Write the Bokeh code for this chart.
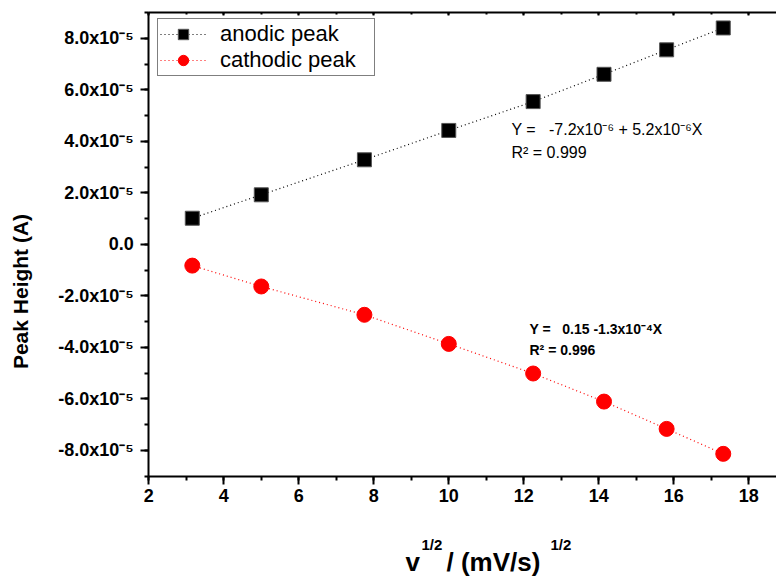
from math import pi

from bokeh.plotting import figure
from bokeh.models import (Range1d, LinearAxis, SingleIntervalTicker, CustomJSTickFormatter,
                          Label, Legend, LegendItem)
from bokeh.embed import file_html
from bokeh.resources import INLINE

# square root of scan rate, (mV/s)^1/2
sqrt_scan_rate = [3.16, 5.00, 7.75, 10.00, 12.25, 14.14, 15.81, 17.32]
# peak currents, A
anodic_peak = [1.01e-5, 1.92e-5, 3.28e-5, 4.42e-5, 5.54e-5, 6.60e-5, 7.55e-5, 8.40e-5]
cathodic_peak = [-0.83e-5, -1.64e-5, -2.74e-5, -3.87e-5, -5.02e-5, -6.11e-5, -7.17e-5, -8.14e-5]

series_names = ["anodic peak", "cathodic peak"]
anodic_fit = ["Y =\u00a0\u00a0\u00a0-7.2x10\u207b\u2076 + 5.2x10\u207b\u2076X", "R\u00b2 = 0.999"]
cathodic_fit = ["Y =\u00a0\u00a0\u00a00.15 -1.3x10\u207b\u2074X", "R\u00b2 = 0.996"]

# axis box in data units
X_MIN, X_MAX = 2.0, 18.74
Y_MIN, Y_MAX = -9e-5, 9e-5

FONT = "Liberation Sans"
W, H = 776, 580

# The plotting frame fills the whole canvas; the axes are pinned at the box edges so
# that titles and tick labels can sit anywhere on the page.
BOX_L, BOX_T, BOX_B = 148.3, 12.0, 475.5          # pixel edges of the axis box
px_per_x = (W - BOX_L) / (X_MAX - X_MIN)
px_per_y = (BOX_B - BOX_T) / (Y_MAX - Y_MIN)
x_lo = X_MIN - BOX_L / px_per_x
y_hi = Y_MAX + BOX_T / px_per_y
y_lo = Y_MIN - (H - BOX_B) / px_per_y

p = figure(width=W, height=H, output_backend="svg", toolbar_location=None,
           x_range=Range1d(x_lo, X_MAX), y_range=Range1d(y_lo, y_hi),
           x_axis_type=None, y_axis_type=None,
           min_border_left=0, min_border_right=0, min_border_top=0, min_border_bottom=0)
p.outline_line_color = None
p.background_fill_color = "white"
p.border_fill_color = "white"


def style_axis(ax):
    ax.axis_line_width = 2
    ax.axis_line_color = "black"
    ax.major_tick_line_width = 2
    ax.minor_tick_line_width = 2
    ax.major_tick_line_color = "black"
    ax.minor_tick_line_color = "black"
    ax.major_label_text_font = FONT
    ax.major_label_text_font_style = "bold"
    ax.major_label_text_font_size = "18px"
    ax.major_label_text_color = "black"


xaxis = LinearAxis(ticker=SingleIntervalTicker(interval=2, num_minor_ticks=2),
                   fixed_location=Y_MIN, bounds=(X_MIN, X_MAX))
style_axis(xaxis)
xaxis.major_tick_out = 8
xaxis.major_tick_in = 0
xaxis.minor_tick_out = 4
xaxis.minor_tick_in = 0
xaxis.major_label_standoff = 5
p.add_layout(xaxis, "below")

yaxis = LinearAxis(
    ticker=SingleIntervalTicker(interval=2e-5, num_minor_ticks=2),
    fixed_location=X_MIN, bounds=(Y_MIN, Y_MAX),
    formatter=CustomJSTickFormatter(code="""
        const n = Math.round(tick * 1e5);
        if (n === 0) { return "0.0"; }
        return n.toFixed(1) + "x10\u207b\u2075";
    """))
style_axis(yaxis)
yaxis.major_tick_out = 8
yaxis.major_tick_in = 0
yaxis.minor_tick_out = 4
yaxis.minor_tick_in = 0
yaxis.major_label_standoff = 7
p.add_layout(yaxis, "left")

topaxis = LinearAxis(ticker=SingleIntervalTicker(interval=2, num_minor_ticks=2),
                     fixed_location=Y_MAX, bounds=(X_MIN, X_MAX))
style_axis(topaxis)
topaxis.major_tick_out = 0
topaxis.major_tick_in = 3
topaxis.minor_tick_out = 0
topaxis.minor_tick_in = 2
topaxis.major_label_text_color = None
p.add_layout(topaxis, "above")

# data series: dotted connecting line plus markers
a_line = p.line(sqrt_scan_rate, anodic_peak, line_color="black", line_width=1.2, line_dash="1 3")
a_pts = p.scatter(sqrt_scan_rate, anodic_peak, marker="square", size=14,
                  fill_color="black", line_color="#555555", line_width=1)
c_line = p.line(sqrt_scan_rate, cathodic_peak, line_color="red", line_width=1.2, line_dash="1 3")
c_pts = p.scatter(sqrt_scan_rate, cathodic_peak, marker="circle", size=15,
                  fill_color="red", line_color="red", line_width=1)

# legend anchored by its lower-left corner (pixels up from the page bottom)
legend = Legend(items=[LegendItem(label=series_names[0], renderers=[a_line, a_pts]),
                       LegendItem(label=series_names[1], renderers=[c_line, c_pts])],
                location=(157, H - 76), padding=2, spacing=0,
                glyph_width=46, glyph_height=26, label_height=24, label_width=152,
                label_standoff=14,
                label_text_font=FONT, label_text_font_size="22px", label_text_color="black",
                border_line_color="black", border_line_width=1, background_fill_alpha=1)
p.add_layout(legend)


def page_label(text, cx, cy, size, bold=False, **kw):
    """Text placed by page pixel position (top-left origin)."""
    p.add_layout(Label(x=cx, y=H - cy, x_units="screen", y_units="screen", text=text,
                       text_font=FONT, text_font_size=size, text_color="black",
                       text_font_style="bold" if bold else "normal", **kw))


# fit equations
for i, line in enumerate(anodic_fit):
    page_label(line, 511, 129 + 23 * i, "16px", text_baseline="middle")
for i, line in enumerate(cathodic_fit):
    page_label(line, 529, 328 + 21 * i, "14px", bold=True, text_baseline="middle")

# axis titles
page_label("Peak Height (A)", 20, 291, "21px", bold=True, angle=pi / 2,
           text_align="center", text_baseline="middle")
for txt, cx, cy, size in [("v", 405, 561, "26px"), ("1/2", 421, 544, "15px"),
                          ("/ (mV/s)", 446, 561, "26px"), ("1/2", 550, 544, "15px")]:
    page_label(txt, cx, cy, size, bold=True, text_baseline="middle")

open("out.html", "w").write(file_html(p, INLINE))
